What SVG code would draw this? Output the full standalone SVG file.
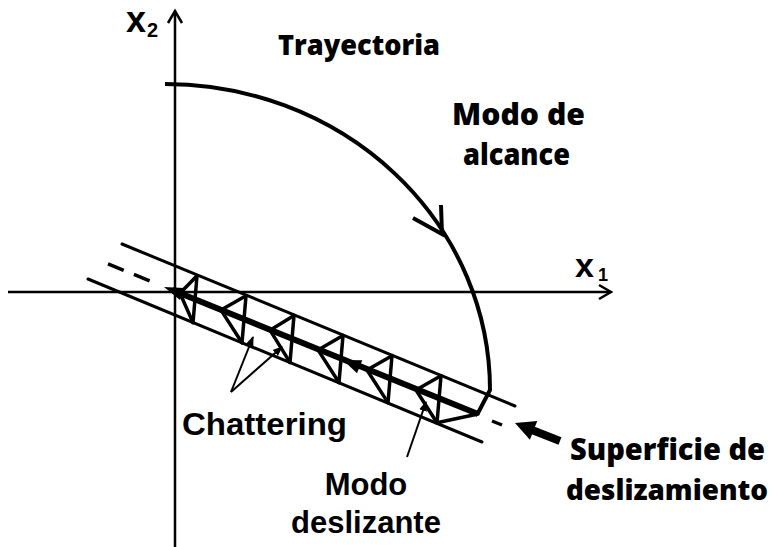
<svg xmlns="http://www.w3.org/2000/svg" width="775" height="547" viewBox="0 0 775 547">
<style>
.ax{stroke:#000;stroke-width:2.5;fill:none}
.bd{stroke:#000;stroke-width:3;fill:none;stroke-linecap:round}
.ch{stroke:#000;stroke-width:3.5;fill:none;stroke-linecap:round;stroke-linejoin:round}
.th{stroke:#000;stroke-width:2;fill:none}
.os{font-family:"Open Sans","DejaVu Sans",sans-serif;font-weight:800;fill:#000}
.ar{font-family:"Liberation Sans",Arial,sans-serif;font-weight:bold;fill:#000}
</style>
<defs>
<marker id="sa" markerWidth="10" markerHeight="10" refX="9" refY="5" orient="auto" markerUnits="userSpaceOnUse">
<path d="M0,1 L10,5 L0,9 Z" fill="#000"/>
</marker>
</defs>
<rect width="775" height="547" fill="#fff"/>
<g id="axes">
<line class="ax" x1="175" y1="547" x2="175" y2="11"/>
<polyline class="ax" points="168,23 175,11 182,23"/>
<line class="ax" x1="8" y1="292" x2="611" y2="292"/>
<polyline class="ax" points="599,285 611,292 599,299"/>
</g>
<g id="labels-axes">
<text class="ar" x="126" y="32" font-size="36">x</text>
<text class="ar" x="147" y="37" font-size="20">2</text>
<text class="ar" x="575" y="277" font-size="34">x</text>
<text class="ar" x="598" y="281" font-size="18">1</text>
</g>
<g id="surface">
<line class="bd" x1="122" y1="244" x2="515" y2="406"/>
<line class="bd" x1="88" y1="279" x2="482" y2="442"/>
<line x1="108" y1="263.8" x2="153" y2="282.3" stroke="#000" stroke-width="3.5" stroke-dasharray="17 11"/>
<line x1="492" y1="421" x2="502" y2="425" stroke="#000" stroke-width="3.5"/>
<line x1="172" y1="290" x2="478" y2="414" stroke="#000" stroke-width="6"/>
<path d="M164,287 L184,288 L180,300 Z" fill="#000"/>
<path d="M343,360 L357,373.3 L362.3,360.3 Z" fill="#000"/>
</g>
<g id="chattering">
<path class="ch" d="M197,275.8 L193,322.6 M246,295.8 L242,342.7 M294,315.5 L290,362.4 M343,335.6 L339,382.5 M392,355.7 L388,402.6 M441,375.8 L437,422.7"/>
<path class="ch" d="M197,275.8 L180,293.3 L193,322.6 M246,295.8 L221,310.1 L242,342.7 M294,315.5 L270,330.2 L290,362.4 M343,335.6 L318,349.9 L339,382.5 M392,355.7 L367,370 L388,402.6 M441,375.8 L416,390 L437,422.7 M437,422.7 L478,414"/>
</g>
<g id="trajectory">
<path d="M165,84 A325,306 0 0 1 490,390 L478,413" stroke="#000" stroke-width="4" fill="none" stroke-linejoin="round"/>
<polyline points="413,218 442,234 441,205" stroke="#000" stroke-width="4" fill="none" stroke-linejoin="miter"/>
</g>
<g id="connectors">
<line class="th" x1="231" y1="392" x2="253" y2="337" marker-end="url(#sa)"/>
<line class="th" x1="231" y1="392" x2="282" y2="347" marker-end="url(#sa)"/>
<line class="th" x1="407" y1="457" x2="426" y2="402" marker-end="url(#sa)"/>
<line x1="560" y1="441" x2="532" y2="430" stroke="#000" stroke-width="8"/>
<path d="M515,423 L537.3,421.1 L529.9,439.7 Z" fill="#000"/>
</g>
<g id="text">
<text class="os" x="278" y="55" font-size="29" textLength="162" lengthAdjust="spacingAndGlyphs">Trayectoria</text>
<text class="os" x="452" y="125" font-size="30" textLength="133" lengthAdjust="spacingAndGlyphs">Modo de</text>
<text class="os" x="463" y="165" font-size="30" textLength="107" lengthAdjust="spacingAndGlyphs">alcance</text>
<text class="ar" x="182" y="435" font-size="32" textLength="165" lengthAdjust="spacingAndGlyphs">Chattering</text>
<text class="ar" x="366" y="495" font-size="31" text-anchor="middle">Modo</text>
<text class="ar" x="366" y="533" font-size="31" text-anchor="middle">deslizante</text>
<text class="os" x="570" y="460" font-size="30" textLength="195" lengthAdjust="spacingAndGlyphs">Superficie de</text>
<text class="os" x="566" y="500" font-size="28" textLength="202" lengthAdjust="spacingAndGlyphs">deslizamiento</text>
</g>
</svg>
